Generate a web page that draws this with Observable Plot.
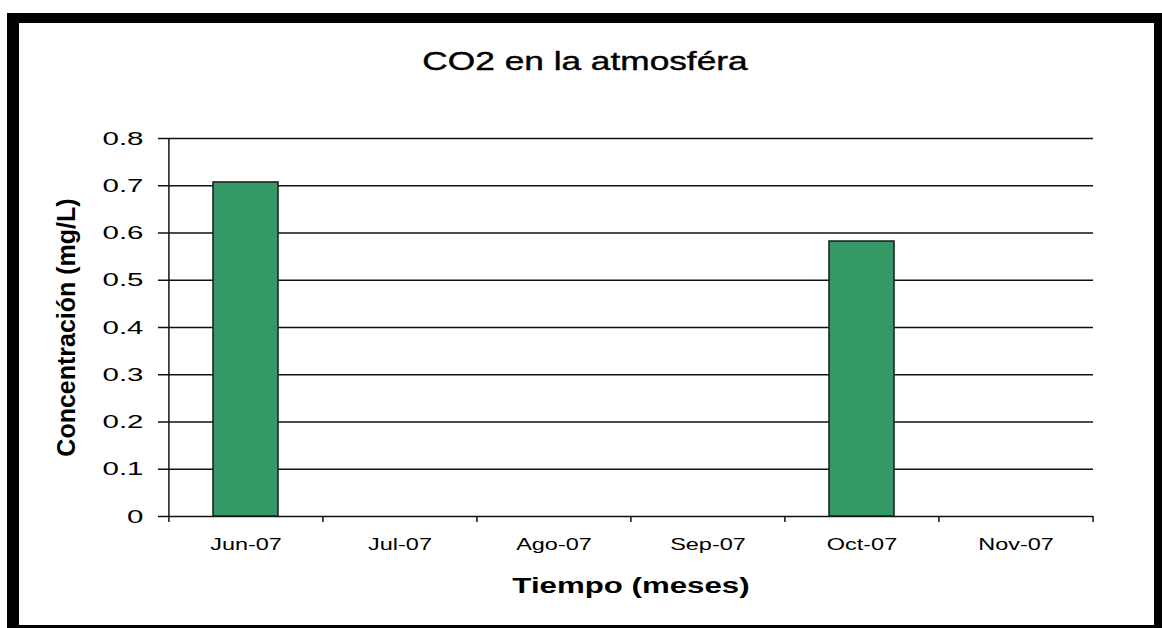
<!DOCTYPE html>
<html>
<head>
<meta charset="utf-8">
<script src="https://cdn.jsdelivr.net/npm/d3@7"></script>
<script src="https://cdn.jsdelivr.net/npm/@observablehq/plot@0.6"></script>
<style>
  html, body { margin: 0; padding: 0; background: #fff; overflow: hidden; }
  #wrap { position: relative; width: 1162px; height: 628px; }
  #frame { position: absolute; left: 7px; top: 13px; width: 1135px; height: 602px;
           border-style: solid; border-color: #000; border-width: 10px 8px 10px 12px; background: #fff; }
  #chart { position: absolute; left: 0; top: 0; }
  #title { position: absolute; left: 284.5px; width: 600px; top: 48.8px; text-align: center;
           font-family: Arial, "Liberation Sans", sans-serif; font-size: 25px; line-height: 25px;
           color: #000; transform: scaleX(1.41); transform-origin: center; white-space: nowrap;
           -webkit-text-stroke: 0.4px #000; }
</style>
</head>
<body>
<div id="wrap">
  <div id="frame"></div>
  <div id="chart"></div>
  <div id="title">CO2 en la atmosféra</div>
</div>
<script>
// ---- data ----
const months = ["Jun-07", "Jul-07", "Ago-07", "Sep-07", "Oct-07", "Nov-07"];
const values = [0.707, null, null, null, 0.582, null];
const yTicks = [0, 0.1, 0.2, 0.3, 0.4, 0.5, 0.6, 0.7, 0.8];
const yTickLabels = ["0", "0.1", "0.2", "0.3", "0.4", "0.5", "0.6", "0.7", "0.8"];
const xLabel = "Tiempo (meses)";
const yLabel = "Concentración (mg/L)";

// ---- layout ----
const W = 1162, H = 628, mL = 168, mR = 69, mT = 138, mB = 112;
const half = (W - mL - mR) / months.length / 2;
const data = months.map((m, i) => ({month: m, value: values[i]})).filter(d => d.value != null);
const font = 'Arial, "Liberation Sans", sans-serif';
const ink = "#111";

const chart = Plot.plot({
  width: W, height: H,
  marginLeft: mL, marginRight: mR, marginTop: mT, marginBottom: mB,
  style: {background: "transparent", fontFamily: font, color: "#000", overflow: "visible"},
  x: {domain: months, paddingInner: 0.58, paddingOuter: 0.29, label: null},
  y: {domain: [0, 0.8], label: null},
  marks: [
    Plot.ruleY(yTicks, {stroke: ink, strokeWidth: 1.5}),
    Plot.axisY({ticks: yTicks, tickSize: 10, tickPadding: 15, strokeWidth: 1.5, stroke: ink,
      tickFormat: d => yTickLabels[yTicks.indexOf(d)],
      label: yLabel, labelAnchor: "center", labelArrow: "none", labelOffset: 111}),
    Plot.barY(data, {x: "month", y: "value", fill: "#339966", stroke: "#1a1a1a", strokeWidth: 1.5}),
    // left axis line (category boundary at the start)
    Plot.ruleX([months[0]], {dx: -half, insetBottom: -6, stroke: ink, strokeWidth: 1.5}),
    // category boundary ticks
    Plot.ruleX(months.slice(1), {x: d => d, y1: 0, y2: 0, insetBottom: -6, dx: -half, stroke: ink, strokeWidth: 1.5}),
    Plot.ruleX([months[months.length - 1]], {x: d => d, y1: 0, y2: 0, insetBottom: -6, dx: half, stroke: ink, strokeWidth: 1.5}),
    Plot.axisX({tickSize: 0, tickPadding: 21, label: xLabel, labelAnchor: "center", labelArrow: "none", labelOffset: 76})
  ]
});
document.getElementById("chart").appendChild(chart);

// make sure axis labels carry no arrow glyph
const yl = chart.querySelector('g[aria-label="y-axis label"] text');
if (yl) yl.textContent = yLabel;
const xl = chart.querySelector('g[aria-label="x-axis label"] text');
if (xl) xl.textContent = xLabel;

function styleTexts(selector, size, weight, k) {
  chart.querySelectorAll(selector).forEach(t => {
    t.setAttribute("font-size", size);
    t.setAttribute("font-weight", weight);
    t.setAttribute("fill", "#000");
    t.style.fontFamily = font;
    if (k && t.textContent) {
      const w = t.getComputedTextLength();
      t.setAttribute("textLength", (w * k).toFixed(1));
      t.setAttribute("lengthAdjust", "spacingAndGlyphs");
    }
  });
}
styleTexts('g[aria-label="y-axis tick label"] text', 19, "normal", 1.55);
styleTexts('g[aria-label="x-axis tick label"] text', 17, "normal", 1.38);
styleTexts('g[aria-label="x-axis label"] text', 22, "bold", 1.42);
styleTexts('g[aria-label="y-axis label"] text', 25, "bold", 0);
</script>
</body>
</html>
